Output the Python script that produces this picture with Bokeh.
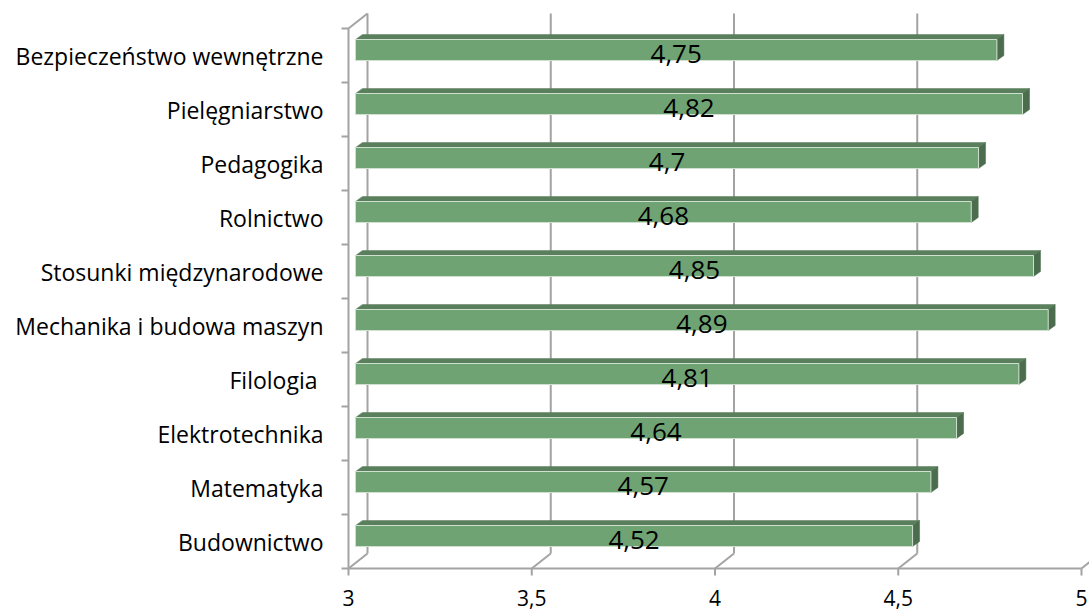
from bokeh.plotting import figure
from bokeh.models import Range1d, FixedTicker, ColumnDataSource
from bokeh.core.properties import value
from bokeh.embed import file_html
from bokeh.resources import INLINE

# ---- data (bottom to top) ----
categories = [
    "Budownictwo",
    "Matematyka",
    "Elektrotechnika",
    "Filologia ",
    "Mechanika i budowa maszyn",
    "Stosunki międzynarodowe",
    "Rolnictwo",
    "Pedagogika",
    "Pielęgniarstwo",
    "Bezpieczeństwo wewnętrzne",
]
values = [4.52, 4.57, 4.64, 4.81, 4.89, 4.85, 4.68, 4.7, 4.82, 4.75]
value_labels = ["4,52", "4,57", "4,64", "4,81", "4,89", "4,85", "4,68", "4,7", "4,82", "4,75"]
x_ticks = [3, 3.5, 4, 4.5, 5]
x_tick_labels = ["3", "3,5", "4", "4,5", "5"]

# ---- layout constants (pixels) ----
W, H = 1089, 614
FRAME_LEFT = 338
X0_PX = 348          # canvas px of axis minimum
PX_PER_UNIT = 366.5
FLOOR_PX = 568       # canvas y of the front floor line
BAND_PX = 54.0

def dx(px):
    return px / PX_PER_UNIT

def dy(px):
    return px / BAND_PX

xmin = x_ticks[0]
xmax = x_ticks[-1]
n = len(categories)

x_start = xmin - dx(X0_PX - FRAME_LEFT)
x_end = x_start + dx(W - FRAME_LEFT)
y_end = dy(FLOOR_PX)
y_start = -dy(H - FLOOR_PX)

p = figure(
    width=W, height=H,
    x_range=Range1d(x_start, x_end), y_range=Range1d(y_start, y_end),
    output_backend="svg", toolbar_location=None, x_axis_location=None,
    min_border_left=FRAME_LEFT, min_border_right=0, min_border_top=0, min_border_bottom=0,
    outline_line_color=None, background_fill_color="white",
)
p.grid.visible = False

# category axis
p.yaxis.ticker = FixedTicker(ticks=[i + 0.5 for i in range(n)])
p.yaxis.major_label_overrides = {i + 0.5: c for i, c in enumerate(categories)}
p.yaxis.axis_line_color = None
p.yaxis.major_tick_line_color = None
p.yaxis.minor_tick_line_color = None
p.yaxis.major_tick_out = 0
p.yaxis.major_tick_in = 0
p.yaxis.minor_tick_out = 0
p.yaxis.major_label_standoff = 15
p.yaxis.major_label_text_font = "Open Sans"
p.yaxis.major_label_text_font_size = "23px"
p.yaxis.major_label_text_color = "#000000"

GRID = "#a3a3a3"
GW = 2
BACK_DX, BACK_DY = dx(19), dy(15)

# 3D frame: gridlines on back wall, floor diagonals, ticks
gx0, gy0, gx1, gy1 = [], [], [], []
for t in x_ticks:
    gx0.append(t + BACK_DX); gy0.append(BACK_DY); gx1.append(t + BACK_DX); gy1.append(n + BACK_DY)
    gx0.append(t); gy0.append(0); gx1.append(t + BACK_DX); gy1.append(BACK_DY)
    gx0.append(t); gy0.append(0); gx1.append(t); gy1.append(-dy(7))
gx0.append(xmin); gy0.append(0); gx1.append(xmax); gy1.append(0)
gx0.append(xmin); gy0.append(0); gx1.append(xmin); gy1.append(n)
gx0.append(xmin); gy0.append(n); gx1.append(xmin + BACK_DX); gy1.append(n + BACK_DY)
for i in range(n + 1):
    gx0.append(xmin - dx(7)); gy0.append(i); gx1.append(xmin); gy1.append(i)
p.segment(x0=gx0, y0=gy0, x1=gx1, y1=gy1, line_color=GRID, line_width=GW)

# ---- bars ----
OX, OY = dx(7), dy(5.5)      # bar front face offset from front plane
BDX, BDY = dx(7), dy(5)      # bar depth
BH = dy(21)                  # bar height

lefts = [xmin + OX] * n
rights = [v + OX for v in values]
yc = [i + 0.5 + OY for i in range(n)]
bots = [y - BH / 2 for y in yc]
tops = [y + BH / 2 for y in yc]

top_xs = [[l, r, r + BDX, l + BDX] for l, r in zip(lefts, rights)]
top_ys = [[t, t, t + BDY, t + BDY] for t in tops]
side_xs = [[r, r, r + BDX, r + BDX] for r in rights]
side_ys = [[b, t, t + BDY, b + BDY] for b, t in zip(bots, tops)]

p.patches(xs=top_xs, ys=top_ys, fill_color="#5a7f5c", line_color="#5a7f5c", line_width=0.5)
p.patches(xs=side_xs, ys=side_ys, fill_color="#4b6d4d", line_color="#4b6d4d", line_width=0.5)
p.quad(left=lefts, right=rights, bottom=bots, top=tops,
       fill_color="#70a374", line_color="#cfe0cf", line_width=1)

# value labels
src = ColumnDataSource(dict(
    x=[(l + r) / 2 for l, r in zip(lefts, rights)],
    y=[y - dy(4) for y in yc],
    text=value_labels,
))
p.text(x="x", y="y", text="text", source=src, text_align="center", text_baseline="middle",
       text_font=value("Open Sans"), text_font_size="26px", text_color="#000000")

# x tick labels
p.text(x=x_ticks, y=[-dy(29)] * len(x_ticks), text=x_tick_labels, text_align="center",
       text_baseline="middle", text_font=value("Open Sans"), text_font_size="21px",
       text_color="#000000")

open("out.html", "w").write(file_html(p, INLINE))
